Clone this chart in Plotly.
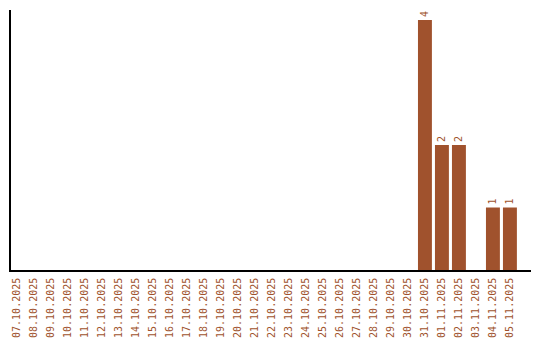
import plotly.graph_objects as go

dates = ["07.10.2025", "08.10.2025", "09.10.2025", "10.10.2025", "11.10.2025",
         "12.10.2025", "13.10.2025", "14.10.2025", "15.10.2025", "16.10.2025",
         "17.10.2025", "18.10.2025", "19.10.2025", "20.10.2025", "21.10.2025",
         "22.10.2025", "23.10.2025", "24.10.2025", "25.10.2025", "26.10.2025",
         "27.10.2025", "28.10.2025", "29.10.2025", "30.10.2025", "31.10.2025",
         "01.11.2025", "02.11.2025", "03.11.2025", "04.11.2025", "05.11.2025"]
counts = [0, 0, 0, 0, 0, 0, 0, 0, 0, 0,
          0, 0, 0, 0, 0, 0, 0, 0, 0, 0,
          0, 0, 0, 0, 4, 2, 2, 0, 1, 1]

brown = "#a0522d"
labels = [str(v) if v > 0 else "" for v in counts]

fig = go.Figure(go.Bar(
    x=dates, y=counts, marker_color=brown, marker_line_width=0,
    text=labels, textposition="outside", textangle=-90,
    textfont=dict(family="DejaVu Sans Mono", size=10, color=brown),
    cliponaxis=False,
))

fig.update_layout(
    width=540, height=340,
    margin=dict(l=11, r=9, t=10, b=70),
    plot_bgcolor="white", paper_bgcolor="white",
    bargap=0.18, showlegend=False,
    font=dict(family="DejaVu Sans Mono", size=10, color=brown),
)
fig.update_xaxes(
    type="category", range=[-0.353, 30.24], tickangle=-90, automargin=False,
    showline=True, linecolor="black", linewidth=1.5, ticklabelstandoff=2,
    showgrid=False, ticks="", tickfont=dict(size=10, color=brown),
)
fig.update_yaxes(
    range=[0, 4.16], showline=True, linecolor="black", linewidth=1.5,
    showgrid=False, showticklabels=False, ticks="", zeroline=False,
)

fig.write_html("out.html")
